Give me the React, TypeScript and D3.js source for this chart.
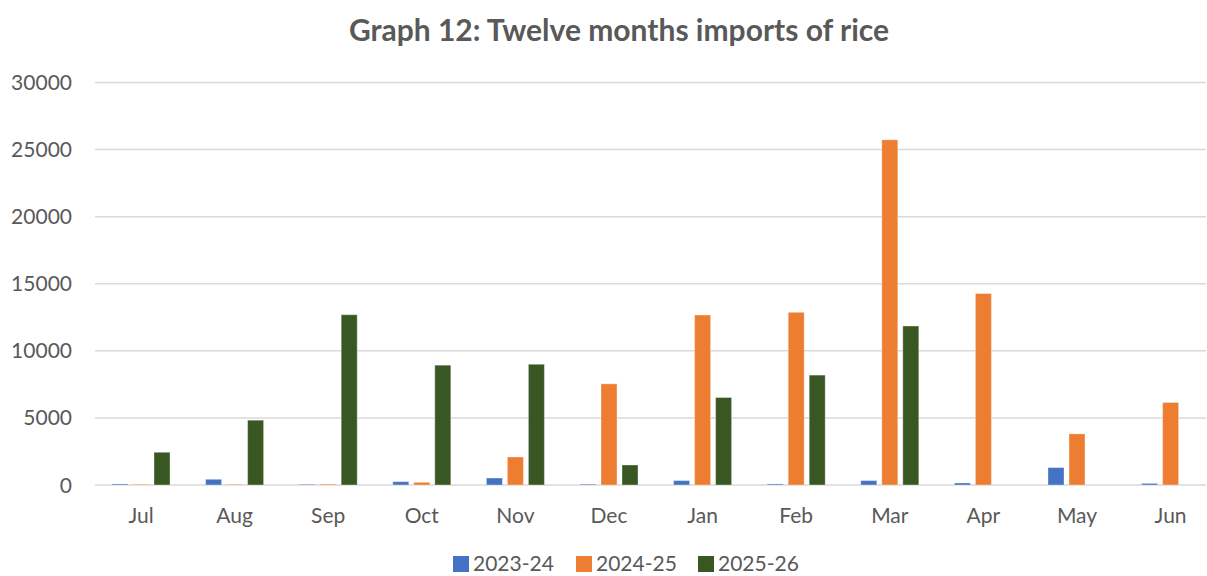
import React from "react";
import * as d3 from "d3";

const months = ["Jul", "Aug", "Sep", "Oct", "Nov", "Dec", "Jan", "Feb", "Mar", "Apr", "May", "Jun"];
const seriesNames = ["2023-24", "2024-25", "2025-26"];
const s2023 = [80, 425, 50, 250, 520, 60, 330, 80, 330, 150, 1300, 120];
const s2024 = [50, 50, 70, 200, 2090, 7540, 12670, 12870, 25730, 14270, 3810, 6150];
const s2025 = [2440, 4830, 12690, 8930, 9000, 1490, 6520, 8190, 11850, 0, 0, 0];
const yTicks = [0, 5000, 10000, 15000, 20000, 25000, 30000];
const colors = ["#4472C4", "#ED7D31", "#385723"];

const W = 1207;
const H = 576;
const FONT = "Lato, 'Open Sans', sans-serif";

export default function App() {
  const series = [s2023, s2024, s2025];
  const x = d3.scaleBand<string>().domain(months).range([94.2, 1217.4]).padding(0);
  const inner = d3
    .scaleBand<string>()
    .domain(seriesNames)
    .range([0, 63])
    .paddingInner(5 / 21)
    .paddingOuter(5 / 42);
  const y = d3.scaleLinear().domain([0, 30000]).range([485, 82.5]);
  const gridL = 95;
  const gridR = 1206;

  return (
    <svg
      width={W}
      height={H}
      style={{ position: "absolute", left: 0, top: 0, background: "#fff" }}
      fontFamily={FONT}
    >
      <rect x={0} y={0} width={W} height={H} fill="#fff" />
      <text
        x={619}
        y={41}
        textAnchor="middle"
        fontSize={30}
        fontWeight={700}
        fill="#595959"
      >
        Graph 12: Twelve months imports of rice
      </text>
      {yTicks.map((t) => (
        <g key={t}>
          <line
            x1={gridL}
            x2={gridR}
            y1={y(t)}
            y2={y(t)}
            stroke="#d9d9d9"
            strokeWidth={1.5}
          />
          <text
            x={72}
            y={y(t)}
            dy="0.36em"
            textAnchor="end"
            fontSize={21}
            fill="#595959"
          >
            {t}
          </text>
        </g>
      ))}
      {months.map((m, i) => {
        const cx = (x(m) as number) + x.bandwidth() / 2;
        return (
          <g key={m}>
            {series.map((s, k) => {
              const v = s[i];
              if (v <= 0) return null;
              const bx = cx - 31.5 + (inner(seriesNames[k]) as number);
              return (
                <rect
                  key={k}
                  x={bx}
                  y={y(v)}
                  width={inner.bandwidth()}
                  height={y(0) - y(v)}
                  fill={colors[k]}
                  stroke="#ffffff"
                  strokeOpacity={0.35}
                  strokeWidth={1}
                />
              );
            })}
            <text x={cx} y={523} textAnchor="middle" fontSize={21} fill="#595959">
              {m}
            </text>
          </g>
        );
      })}
      {seriesNames.map((n, k) => {
        const lx = [453, 576, 698][k];
        return (
          <g key={n}>
            <rect x={lx} y={556} width={16} height={16} fill={colors[k]} />
            <text x={lx + 20} y={571} fontSize={21} fill="#595959">
              {n}
            </text>
          </g>
        );
      })}
    </svg>
  );
}
